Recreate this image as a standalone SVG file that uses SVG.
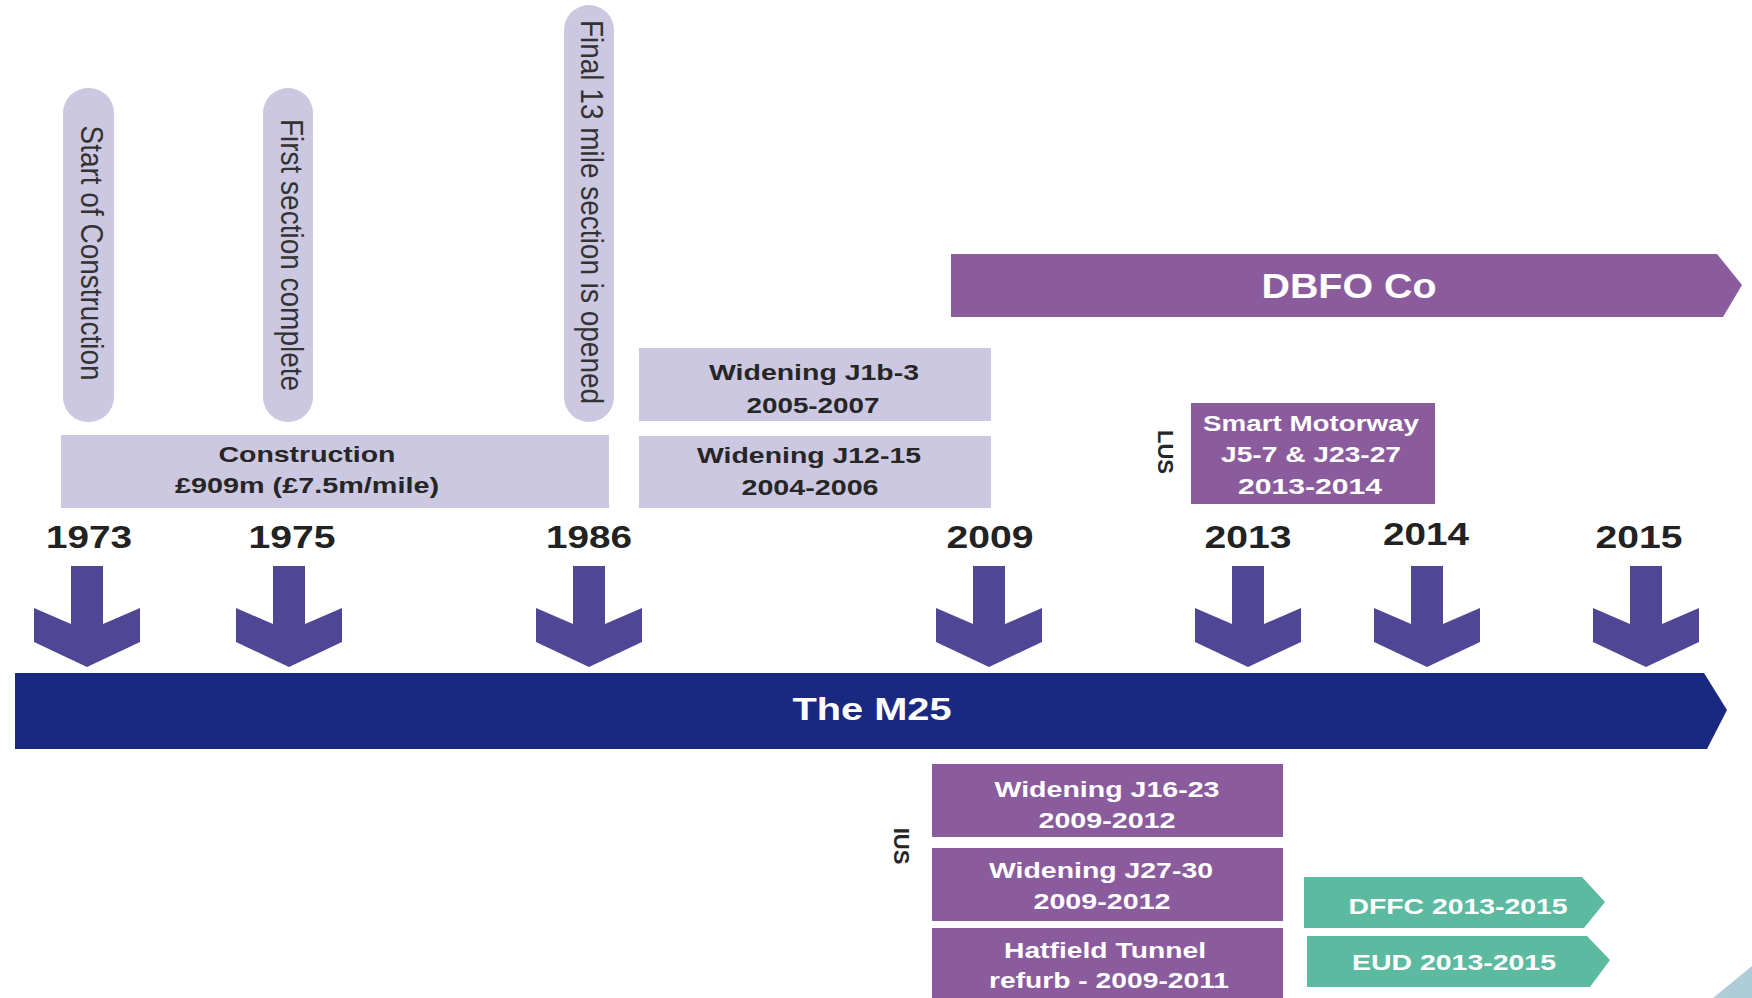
<svg xmlns="http://www.w3.org/2000/svg" width="1752" height="998" viewBox="0 0 1752 998">
<style>
text{font-family:"Liberation Sans",Arial,Helvetica,sans-serif}
.lav{fill:#ccc8e2}
.pur{fill:#8b5c9d}
.teal{fill:#5bba9f}
.navy{fill:#1a2980}
.arr{fill:#4f4795}
.dk{fill:#262626;font-weight:bold;font-size:22px;text-anchor:middle}
.wt{fill:#ffffff;font-weight:bold;font-size:22px;text-anchor:middle}
.pill{fill:#333333;font-size:28px;text-anchor:middle}
.yr{fill:#222222;font-weight:bold;font-size:31px;text-anchor:middle}
</style>
<defs>
<polygon id="dn" points="-16,566 16,566 16,624 53,608 53,642 0,667 -53,642 -53,608 -16,624"/>
</defs>
<rect x="0" y="0" width="1752" height="998" fill="#ffffff"/>

<g id="pill-start">
<rect class="lav" x="63" y="88" width="51" height="334" rx="25"/>
<text class="pill" transform="matrix(0 1 -1.15 0 81 253)">Start of Construction</text>
</g>
<g id="pill-first">
<rect class="lav" x="263" y="88" width="50" height="334" rx="25"/>
<text class="pill" transform="matrix(0 1 -1.15 0 281 255)">First section complete</text>
</g>
<g id="pill-final">
<rect class="lav" x="564" y="5" width="50" height="417" rx="25"/>
<text class="pill" transform="matrix(0 1 -1.15 0 581 212)">Final 13 mile section is opened</text>
</g>

<g id="construction">
<rect class="lav" x="61" y="435" width="548" height="73"/>
<text class="dk" x="307" y="462" textLength="177" lengthAdjust="spacingAndGlyphs">Construction</text>
<text class="dk" x="307" y="493" textLength="264" lengthAdjust="spacingAndGlyphs">£909m (£7.5m/mile)</text>
</g>

<g id="widening-j1b-3">
<rect class="lav" x="639" y="348" width="352" height="73"/>
<text class="dk" x="814" y="380" textLength="210" lengthAdjust="spacingAndGlyphs">Widening J1b-3</text>
<text class="dk" x="813" y="413" textLength="133" lengthAdjust="spacingAndGlyphs">2005-2007</text>
</g>
<g id="widening-j12-15">
<rect class="lav" x="639" y="436" width="352" height="72"/>
<text class="dk" x="809" y="463" textLength="224" lengthAdjust="spacingAndGlyphs">Widening J12-15</text>
<text class="dk" x="810" y="495" textLength="137" lengthAdjust="spacingAndGlyphs">2004-2006</text>
</g>

<g id="dbfo">
<polygon class="pur" points="951,254 1717,254 1742,285 1723,317 951,317"/>
<text x="1349" y="298" fill="#ffffff" font-weight="bold" font-size="35" text-anchor="middle" textLength="175" lengthAdjust="spacingAndGlyphs">DBFO Co</text>
</g>

<g id="lus">
<text class="dk" transform="matrix(0 1 -1 0 1158 452)">LUS</text>
</g>
<g id="smart-motorway">
<rect class="pur" x="1191" y="403" width="244" height="101"/>
<text class="wt" x="1311" y="431" textLength="216" lengthAdjust="spacingAndGlyphs">Smart Motorway</text>
<text class="wt" x="1311" y="462" textLength="180" lengthAdjust="spacingAndGlyphs">J5-7 &amp; J23-27</text>
<text class="wt" x="1310" y="494" textLength="144" lengthAdjust="spacingAndGlyphs">2013-2014</text>
</g>

<g id="years">
<text class="yr" x="89" y="548" textLength="86" lengthAdjust="spacingAndGlyphs">1973</text>
<text class="yr" x="292" y="548" textLength="87" lengthAdjust="spacingAndGlyphs">1975</text>
<text class="yr" x="589" y="548" textLength="86" lengthAdjust="spacingAndGlyphs">1986</text>
<text class="yr" x="990" y="548" textLength="87" lengthAdjust="spacingAndGlyphs">2009</text>
<text class="yr" x="1248" y="548" textLength="87" lengthAdjust="spacingAndGlyphs">2013</text>
<text class="yr" x="1426" y="545" textLength="86" lengthAdjust="spacingAndGlyphs">2014</text>
<text class="yr" x="1639" y="548" textLength="87" lengthAdjust="spacingAndGlyphs">2015</text>
</g>

<g id="connectors">
<use href="#dn" class="arr" x="87"/>
<use href="#dn" class="arr" x="289"/>
<use href="#dn" class="arr" x="589"/>
<use href="#dn" class="arr" x="989"/>
<use href="#dn" class="arr" x="1248"/>
<use href="#dn" class="arr" x="1427"/>
<use href="#dn" class="arr" x="1646"/>
</g>

<g id="m25">
<polygon class="navy" points="15,673 1704,673 1727,710 1707,749 15,749"/>
<text x="872" y="720" fill="#ffffff" font-weight="bold" font-size="32" text-anchor="middle" textLength="159" lengthAdjust="spacingAndGlyphs">The M25</text>
</g>

<g id="ius">
<text class="dk" transform="matrix(0 1 -1 0 894 846)">IUS</text>
</g>
<g id="widening-j16-23">
<rect class="pur" x="932" y="764" width="351" height="73"/>
<text class="wt" x="1107" y="797" textLength="225" lengthAdjust="spacingAndGlyphs">Widening J16-23</text>
<text class="wt" x="1107" y="828" textLength="137" lengthAdjust="spacingAndGlyphs">2009-2012</text>
</g>
<g id="widening-j27-30">
<rect class="pur" x="932" y="848" width="351" height="73"/>
<text class="wt" x="1101" y="878" textLength="224" lengthAdjust="spacingAndGlyphs">Widening J27-30</text>
<text class="wt" x="1102" y="909" textLength="137" lengthAdjust="spacingAndGlyphs">2009-2012</text>
</g>
<g id="hatfield">
<rect class="pur" x="932" y="928" width="351" height="75"/>
<text class="wt" x="1105" y="958" textLength="202" lengthAdjust="spacingAndGlyphs">Hatfield Tunnel</text>
<text class="wt" x="1109" y="988" textLength="240" lengthAdjust="spacingAndGlyphs">refurb - 2009-2011</text>
</g>

<g id="dffc">
<polygon class="teal" points="1304,877 1582,877 1605,902 1584,928 1304,928"/>
<text class="wt" x="1458" y="914" textLength="219" lengthAdjust="spacingAndGlyphs">DFFC 2013-2015</text>
</g>
<g id="eud">
<polygon class="teal" points="1307,936 1587,936 1610,960 1590,987 1307,987"/>
<text class="wt" x="1454" y="970" textLength="204" lengthAdjust="spacingAndGlyphs">EUD 2013-2015</text>
</g>

<polygon points="1713,998 1752,966 1752,998" fill="#afcdd8"/>
</svg>
